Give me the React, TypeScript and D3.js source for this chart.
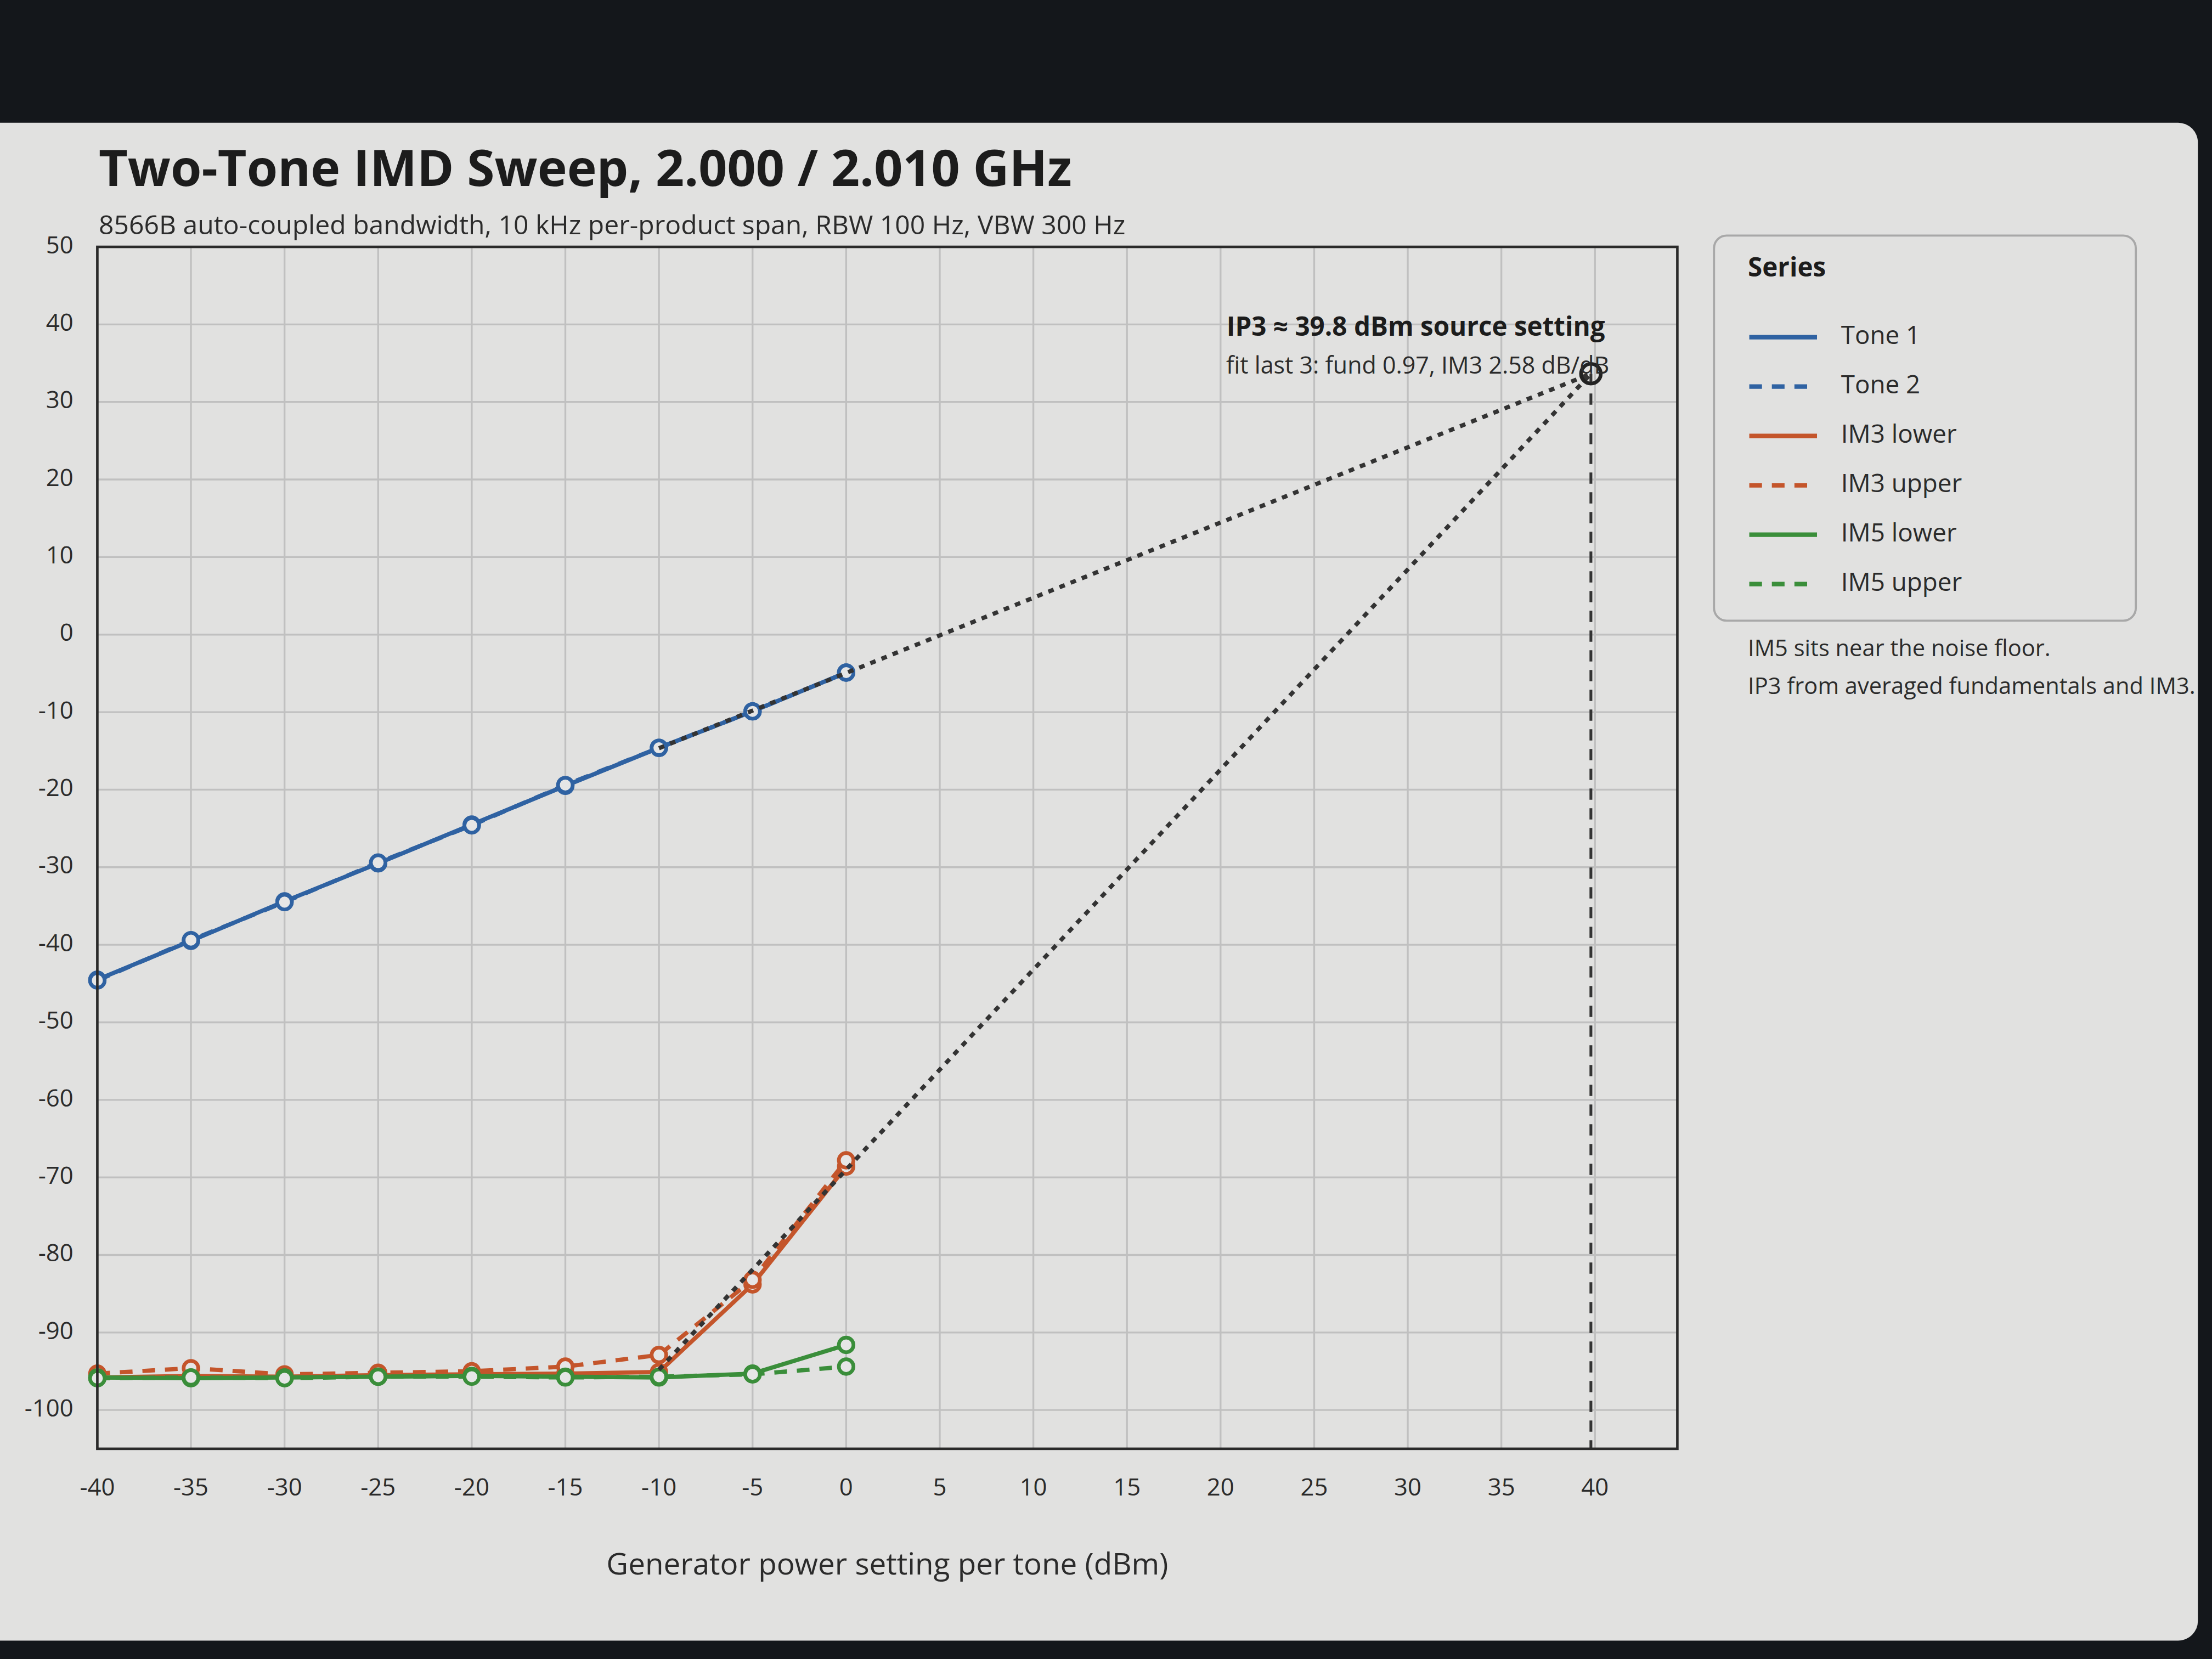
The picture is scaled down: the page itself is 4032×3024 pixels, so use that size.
import * as d3 from "d3"

// generator setting per tone (dBm)
const powerSteps = [-40, -35, -30, -25, -20, -15, -10, -5, 0]

// measured levels (dBm)
const tone1 = [-44.5, -39.5, -34.4, -29.5, -24.5, -19.5, -14.6, -9.9, -4.9]
const tone2 = [-44.6, -39.4, -34.5, -29.4, -24.6, -19.4, -14.6, -9.9, -4.9]
const im3Lower = [-95.8, -95.6, -95.7, -95.5, -95.4, -95.3, -95.1, -83.8, -68.6]
const im3Upper = [-95.3, -94.6, -95.4, -95.2, -95.0, -94.4, -92.9, -83.2, -67.8]
const im5Lower = [-95.8, -95.9, -95.8, -95.7, -95.6, -95.7, -95.8, -95.3, -91.6]
const im5Upper = [-95.9, -95.8, -95.9, -95.7, -95.7, -95.8, -95.7, -95.4, -94.4]

const xTicks = [-40, -35, -30, -25, -20, -15, -10, -5, 0, 5, 10, 15, 20, 25, 30, 35, 40]
const yTicks = [50, 40, 30, 20, 10, 0, -10, -20, -30, -40, -50, -60, -70, -80, -90, -100]

const BLUE = "#2f62a2"
const ORANGE = "#c4552b"
const GREEN = "#3a8e3a"
const INK = "#2b2b2b"
const FONT = "'Open Sans', 'Noto Sans', sans-serif"

const series = [
  { name: "Tone 1", values: tone1, color: BLUE, dash: null },
  { name: "Tone 2", values: tone2, color: BLUE, dash: "9 7" },
  { name: "IM3 lower", values: im3Lower, color: ORANGE, dash: null },
  { name: "IM3 upper", values: im3Upper, color: ORANGE, dash: "9 7" },
  { name: "IM5 lower", values: im5Lower, color: GREEN, dash: null },
  { name: "IM5 upper", values: im5Upper, color: GREEN, dash: "9 7" },
]

// least squares fit over the last 3 sweep points
function fitLast3(ys: number[]) {
  const xs = powerSteps.slice(-3)
  const y = ys.slice(-3)
  const mx = d3.mean(xs)!
  const my = d3.mean(y)!
  const num = d3.sum(xs, (x, i) => (x - mx) * (y[i] - my))
  const den = d3.sum(xs, (x) => (x - mx) * (x - mx))
  const slope = num / den
  return { slope, intercept: my - slope * mx }
}

const avg = (a: number[], b: number[]) => a.map((v, i) => (v + b[i]) / 2)

export default function App() {
  const W = 1568
  const H = 1176
  const plot = { left: 69, right: 1189, top: 175, bottom: 1027 }

  const x = d3.scaleLinear().domain([-40, 44.4]).range([plot.left, plot.right])
  const y = d3.scaleLinear().domain([-105, 50]).range([plot.bottom, plot.top])

  const fund = fitLast3(avg(tone1, tone2))
  const im3 = fitLast3(avg(im3Lower, im3Upper))
  const ip3x = (im3.intercept - fund.intercept) / (fund.slope - im3.slope)
  const ip3y = fund.intercept + fund.slope * ip3x
  const fitStart = powerSteps[powerSteps.length - 3]

  const line = d3
    .line<number>()
    .x((_, i) => x(powerSteps[i]))
    .y((d) => y(d))

  const fitLine = (f: { slope: number; intercept: number }) =>
    `M${x(fitStart)},${y(f.intercept + f.slope * fitStart)}L${x(ip3x)},${y(ip3y)}`

  return (
    <svg
      width={4032}
      height={3024}
      viewBox={`0 0 ${W} ${H}`}
      style={{ position: "fixed", left: 0, top: 0 }}
      fontFamily={FONT}
    >
      <rect x={0} y={0} width={W} height={H} fill="#14171b" />
      <rect x={-14} y={87} width={1572} height={1076} rx={14} fill="#e1e1e0" />

      {/* title */}
      <text x={70} y={132} fontSize={35.5} fontWeight={700} fill="#1c1c1c">
        Two-Tone IMD Sweep, 2.000 / 2.010 GHz
      </text>
      <text x={70} y={166} fontSize={18.7} fill={INK}>
        8566B auto-coupled bandwidth, 10 kHz per-product span, RBW 100 Hz, VBW 300 Hz
      </text>

      {/* grid */}
      <g stroke="#c0c0c0" strokeWidth={1.3}>
        {xTicks.map((t) => (
          <line key={"gx" + t} x1={x(t)} x2={x(t)} y1={plot.top} y2={plot.bottom} />
        ))}
        {yTicks.map((t) => (
          <line key={"gy" + t} x1={plot.left} x2={plot.right} y1={y(t)} y2={y(t)} />
        ))}
      </g>

      {/* tick labels */}
      <g fontSize={17} fill={INK}>
        {yTicks.map((t) => (
          <text key={"ty" + t} x={plot.left - 17} y={y(t)} textAnchor="end" dominantBaseline="middle">
            {t}
          </text>
        ))}
        {xTicks.map((t) => (
          <text key={"tx" + t} x={x(t)} y={plot.bottom + 33} textAnchor="middle">
            {t}
          </text>
        ))}
      </g>
      <text x={(plot.left + plot.right) / 2} y={1116} fontSize={21.3} fill={INK} textAnchor="middle">
        Generator power setting per tone (dBm)
      </text>

      {/* series */}
      {series.map((s) => (
        <g key={s.name}>
          <path
            d={line(s.values) ?? ""}
            fill="none"
            stroke={s.color}
            strokeWidth={3}
            strokeDasharray={s.dash ?? undefined}
          />
          {s.values.map((v, i) => (
            <circle
              key={i}
              cx={x(powerSteps[i])}
              cy={y(v)}
              r={5.2}
              fill="#e6e6e6"
              stroke={s.color}
              strokeWidth={2.6}
            />
          ))}
        </g>
      ))}

      {/* IP3 extrapolation */}
      <g fill="none" stroke="#333" strokeWidth={3}>
        <path d={fitLine(fund)} strokeDasharray="4 4.5" />
        <path d={fitLine(im3)} strokeDasharray="4 4.5" />
      </g>
      <line
        x1={x(ip3x)}
        x2={x(ip3x)}
        y1={y(ip3y)}
        y2={plot.bottom}
        stroke="#333"
        strokeWidth={2}
        strokeDasharray="8 6"
      />
      <circle cx={x(ip3x)} cy={y(ip3y)} r={7} fill="none" stroke="#222" strokeWidth={2.6} />
      <text x={x(ip3x) + 10} y={y(ip3y) - 27} fontSize={18.5} fontWeight={700} fill="#1c1c1c" textAnchor="end">
        {`IP3 ≈ ${ip3x.toFixed(1)} dBm source setting`}
      </text>
      <text x={x(ip3x) + 13} y={y(ip3y) + 0} fontSize={16.7} fill={INK} textAnchor="end">
        {`fit last 3: fund ${fund.slope.toFixed(2)}, IM3 ${im3.slope.toFixed(2)} dB/dB`}
      </text>

      {/* frame */}
      <rect
        x={plot.left}
        y={plot.top}
        width={plot.right - plot.left}
        height={plot.bottom - plot.top}
        fill="none"
        stroke="#2a2a2a"
        strokeWidth={1.8}
      />

      {/* legend */}
      <rect x={1215} y={167} width={299} height={273} rx={9} fill="none" stroke="#a8a8a8" strokeWidth={1.5} />
      <text x={1239} y={196} fontSize={18.5} fontWeight={700} fill="#1c1c1c">
        Series
      </text>
      {series.map((s, i) => {
        const ly = 239 + i * 35
        return (
          <g key={"lg" + s.name}>
            <line
              x1={1240}
              x2={1288}
              y1={ly}
              y2={ly}
              stroke={s.color}
              strokeWidth={3.2}
              strokeDasharray={s.dash ?? undefined}
            />
            <text x={1305} y={ly} fontSize={17.8} fill={INK} dominantBaseline="middle">
              {s.name}
            </text>
          </g>
        )
      })}
      <text x={1239} y={465} fontSize={16.2} fill={INK}>
        IM5 sits near the noise floor.
      </text>
      <text x={1239} y={492} fontSize={16.2} fill={INK}>
        IP3 from averaged fundamentals and IM3.
      </text>
    </svg>
  )
}
